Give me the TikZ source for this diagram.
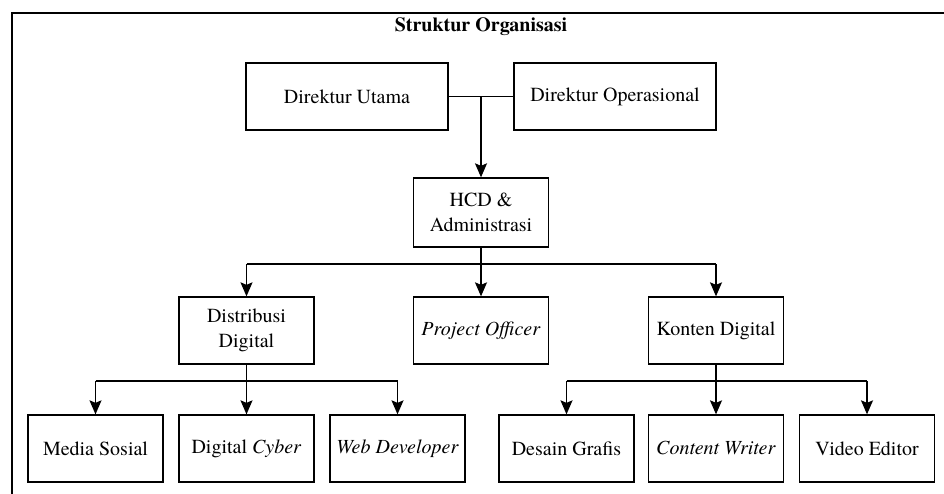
\documentclass[tikz,border=0pt]{standalone}
\usepackage{fontspec}
\setmainfont{texgyretermes}[Extension=.otf,UprightFont=*-regular,BoldFont=*-bold,ItalicFont=*-italic,BoldItalicFont=*-bolditalic]
\usetikzlibrary{arrows.meta}

\begin{document}
\begin{tikzpicture}[x=1pt,y=-1pt,
    unit/.style={draw,line width=1.3pt,minimum width=135pt,minimum height=67pt,inner sep=2pt,align=center,font=\fontsize{20}{25}\selectfont},
    arr/.style={-{Stealth[length=14pt,width=12pt,inset=2.5pt]},line width=1.3pt},
    link/.style={line width=1.3pt}]
      \useasboundingbox (0,0) rectangle (944,494);
      \draw[line width=1.6pt] (944,13) -- (12,13) -- (12,494);
      \node[font=\fontsize{20}{24}\selectfont\bfseries] (title) at (481,27) {Struktur Organisasi};
      % direksi
      \node[unit,minimum width=202pt] (du) at (347,96.5) {Direktur Utama};
      \node[unit,minimum width=202pt] (do) at (615,96.5) {Direktur Operasional};
      \node[unit,minimum height=69pt] (hcd) at (481,212.5) {HCD \&\\Administrasi};
      % divisi
      \node[unit] (dist) at (246.5,330.5) {Distribusi\\Digital};
      \node[unit] (po) at (481,330.5) {\textit{Project Officer}};
      \node[unit] (kon) at (716,330.5) {Konten Digital};
      % staf
      \node[unit] (ms) at (95.5,448.5) {Media Sosial};
      \node[unit] (dc) at (246.5,448.5) {Digital \textit{Cyber}};
      \node[unit] (wd) at (397.5,448.5) {\textit{Web Developer}};
      \node[unit] (dg) at (566.5,448.5) {Desain Grafis};
      \node[unit] (cw) at (716,448.5) {\textit{Content Writer}};
      \node[unit] (ve) at (867,448.5) {Video Editor};
      \coordinate (busA) at (481,264);
      \coordinate (busB) at (246.5,381);
      \coordinate (busC) at (716,381);
      \draw[link] (du.east) -- (do.west);
      \draw[arr] (hcd.north |- du.east) -- (hcd.north);
      \draw[link] (hcd.south) -- (busA);
      \draw[link] (busA -| dist.north) -- (busA -| kon.north);
      \foreach \n in {dist,po,kon} \draw[arr] (busA -| \n.north) -- (\n.north);
      \draw[link] (dist.south) -- (busB);
      \draw[link] (busB -| ms.north) -- (busB -| wd.north);
      \foreach \n in {ms,dc,wd} \draw[arr] (busB -| \n.north) -- (\n.north);
      \draw[link] (kon.south) -- (busC);
      \draw[link] (busC -| dg.north) -- (busC -| ve.north);
      \foreach \n in {dg,cw,ve} \draw[arr] (busC -| \n.north) -- (\n.north);
    \end{tikzpicture}
\end{document}
